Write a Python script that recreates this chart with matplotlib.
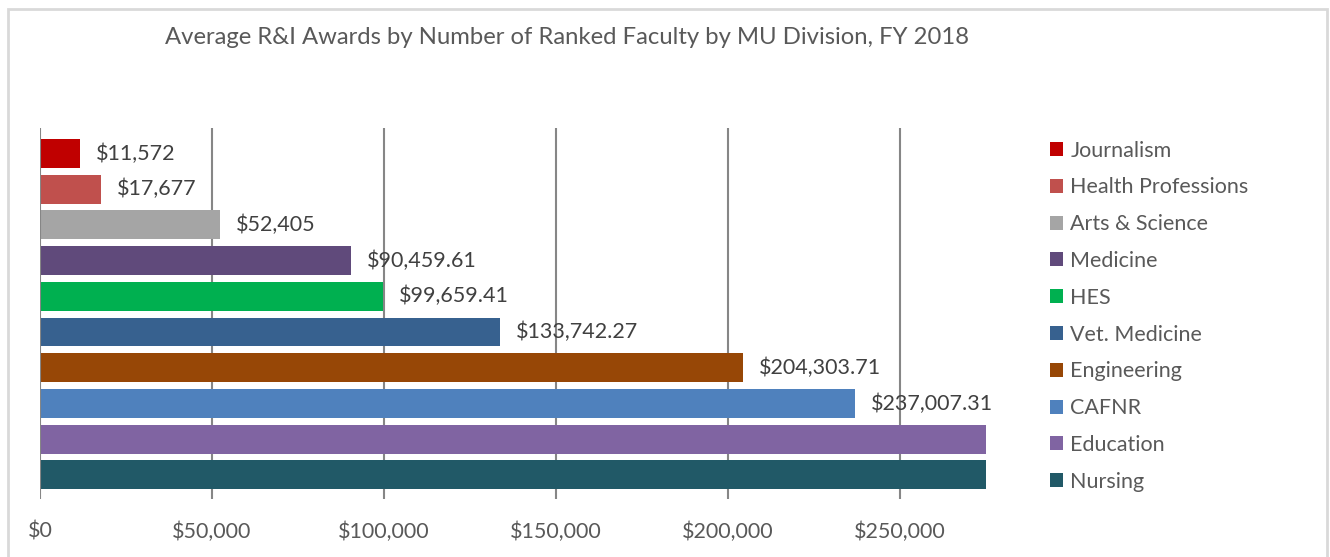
import matplotlib
matplotlib.use("Agg")
import matplotlib.pyplot as plt
from matplotlib.patches import Patch, Rectangle

divisions = ["Journalism", "Health Professions", "Arts & Science", "Medicine", "HES",
             "Vet. Medicine", "Engineering", "CAFNR", "Education", "Nursing"]
awards = [11572, 17677, 52405, 90459.61, 99659.41, 133742.27, 204303.71, 237007.31, 300000, 320000]
colors = ["#C00000", "#C0504D", "#A5A5A5", "#604A7B", "#00B050",
          "#37618F", "#974706", "#4F81BD", "#8064A2", "#215967"]
xticks = [0, 50000, 100000, 150000, 200000, 250000]
xtick_labels = ["$0", "$50,000", "$100,000", "$150,000", "$200,000", "$250,000"]
title = "Average R&I Awards by Number of Ranked Faculty by MU Division, FY 2018"

W, H = 1330, 557
fig = plt.figure(figsize=(W / 100, H / 100), dpi=100)
plt.rcParams['font.family'] = ['Lato', 'DejaVu Sans']
FS = 15.5

# outer frame
fig.patches.append(Rectangle((8 / W, -0.05), (1327 - 8) / W, (H - 9) / H + 0.05,
                             transform=fig.transFigure, fill=False,
                             edgecolor="#D9D9D9", linewidth=2))

ax = fig.add_axes([40 / W, 1 - 499 / H, (986 - 40) / W, (499 - 128) / H])
pos = list(range(len(divisions)))
ax.barh(pos, awards, height=0.81, color=colors, zorder=3)
ax.set_xlim(0, 275000)
ax.set_ylim(9.676, -0.714)

for x in xticks[1:]:
    ax.axvline(x, color="#868686", linewidth=1.5, zorder=1)
ax.axvline(0, color="#868686", linewidth=1.5, zorder=4)

for s in ax.spines.values():
    s.set_visible(False)
ax.set_yticks([])
ax.set_xticks(xticks)
ax.set_xticklabels(xtick_labels, fontsize=FS, color="#595959")
ax.tick_params(axis="x", length=0, pad=16)

for p, v in zip(pos, awards):
    if v < 275000:
        lbl = f"${v:,.0f}" if float(v).is_integer() else f"${v:,.2f}"
        ax.annotate(lbl, (v, p), xytext=(16, 0), textcoords="offset pixels",
                    va="center", ha="left", fontsize=FS, color="#404040", zorder=5)

handles = [Patch(facecolor=c, edgecolor="none") for c in colors]
leg = fig.legend(handles, divisions, loc="upper left",
                 bbox_to_anchor=(1041 / W, 1 - 132 / H), frameon=False,
                 fontsize=FS, labelspacing=0.78, handlelength=0.62, handleheight=0.62,
                 handletextpad=0.35, labelcolor="#595959", borderaxespad=0)

fig.text(567 / W, 1 - 37 / H, title, ha="center", va="center", fontsize=17.2, color="#595959")

fig.savefig("out.png", dpi=100, facecolor="white")
